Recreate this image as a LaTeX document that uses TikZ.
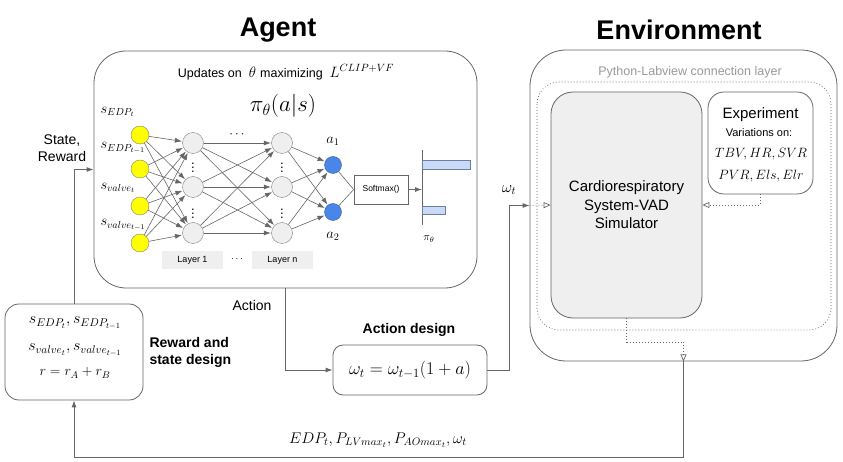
\documentclass[tikz,border=0pt]{standalone}
\usepackage{fix-cm}
\usepackage[no-math]{fontspec}
\setmainfont{Liberation Sans}
\usepackage{tikz}
\usetikzlibrary{arrows.meta}
\usetikzlibrary{positioning}
\tikzset{>={Latex[length=7pt,width=5pt]}}
\definecolor{linegray}{HTML}{666666}
\definecolor{nodegray}{HTML}{EFEFEF}
\definecolor{inyellow}{HTML}{FFFF00}
\definecolor{outblue}{HTML}{4A86E8}
\definecolor{barblue}{HTML}{C9DAF8}
\definecolor{bargray}{HTML}{6D7F9F}
\definecolor{labelgray}{HTML}{999999}

\tikzset{
  title/.style={font=\fontsize{27}{30}\selectfont\bfseries},
  box/.style={draw=linegray, line width=0.8pt},
  dotline/.style={draw=linegray, line width=0.7pt, dash pattern=on 0.8pt off 2.2pt},
  conn/.style={draw=linegray, line width=0.9pt, ->},
  hollow/.style={-{Triangle[open,length=7pt,width=6pt]}},
  innode/.style={circle, draw=gray, fill=inyellow, minimum size=18pt, inner sep=0pt},
  hidnode/.style={circle, draw=gray, fill=nodegray, minimum size=21pt, inner sep=0pt},
  outnode/.style={circle, draw=outblue!70!black, fill=outblue, minimum size=17pt, inner sep=0pt},
  netarrow/.style={draw=linegray, line width=0.6pt, ->, shorten >=0.5pt},
  layerbox/.style={fill=nodegray, minimum width=61pt, minimum height=18pt, font=\fontsize{9}{11}\selectfont},
  lbl/.style={font=\fontsize{14}{17}\selectfont},
  mlbl/.style={font=\fontsize{14.5}{17}\selectfont},
  dots/.style={font=\fontsize{13}{15}\selectfont, inner sep=0pt},
  bold/.style={font=\fontsize{14}{17}\selectfont\bfseries},
}

\begin{document}
\begin{tikzpicture}[x=1pt,y=-1pt]
\useasboundingbox (0,0) rectangle (843,462);

% titles
\node[title] (agenttitle) at (278,30) {Agent};
\node[title] (envtitle) at (679,30) {Environment};

% agent side
\node[box, rounded corners=32pt, minimum width=383pt, minimum height=237pt] (agent) at (285.5,169.5) {};
\node[font=\fontsize{12.5}{15}\selectfont] (update) at (286,72) {Updates on \ \fontsize{15}{17}\selectfont$\theta$\ \fontsize{12.5}{15}\selectfont maximizing \ \fontsize{15}{17}\selectfont$L^{CLIP+VF}$};
\node[font=\fontsize{23}{27}\selectfont] (policy) at (283,106) {$\pi_\theta(a|s)$};

\foreach \y [count=\i] in {135,169,206,243}
  \node[innode] (in\i) at (140,\y) {};
\foreach \y [count=\i] in {143,187,233} {
  \node[hidnode] (ha\i) at (193,\y) {};
  \node[hidnode] (hb\i) at (282,\y) {};
}
\foreach \y [count=\i] in {165,212}
  \node[outnode] (out\i) at (333,\y) {};

\foreach \i in {1,...,4}
  \foreach \j in {1,2,3}
    \draw[netarrow] (in\i) -- (ha\j);
\foreach \i in {1,2,3}
  \foreach \j in {1,2,3}
    \draw[netarrow] (ha\i) -- (hb\j);
\foreach \i in {1,2,3}
  \foreach \j in {1,2}
    \draw[netarrow] (hb\i) -- (out\j);

\node[mlbl, anchor=west] (sin1) at (97,112) {$s_{EDP_t}$};
\node[mlbl, anchor=west] (sin2) at (97,148) {$s_{EDP_{t-1}}$};
\node[mlbl, anchor=west] (sin3) at (97,188) {$s_{valve_t}$};
\node[mlbl, anchor=west] (sin4) at (97,225) {$s_{valve_{t-1}}$};

\node[dots] (hdots) at (237,135) {$\cdots$};
\node[dots] (vdotsa1) at (193,165) {$\vdots$};
\node[dots] (vdotsa2) at (193,211) {$\vdots$};
\node[dots] (vdotsb1) at (282,165) {$\vdots$};
\node[dots] (vdotsb2) at (282,211) {$\vdots$};

\node[mlbl] (a1) at (333,141) {$a_1$};
\node[mlbl] (a2) at (333,236) {$a_2$};

\node[layerbox] (layer1) at (192.5,260) {Layer 1};
\node[layerbox] (layern) at (282.5,260) {Layer n};
\node[font=\fontsize{10}{12}\selectfont] (ldots) at (237,259) {$\cdots$};

\node[draw=linegray, line width=0.7pt, minimum width=54pt, minimum height=29pt, font=\fontsize{8.5}{10}\selectfont] (softmax) at (381,189.5) {Softmax()};
\draw[draw=linegray, line width=0.6pt] (out1) -- (softmax.west);
\draw[draw=linegray, line width=0.6pt] (out2) -- (softmax.west);

\coordinate (axis) at (422,189.5);
\draw[draw=linegray, line width=0.8pt] (422,150) -- (422,225);
\draw[conn] (softmax) -- (axis);
\draw[draw=bargray, fill=barblue, line width=0.7pt] (422,160) rectangle (470,169);
\draw[draw=bargray, fill=barblue, line width=0.7pt] (422,206) rectangle (445,214);
\node[font=\fontsize{11}{13}\selectfont] (pilabel) at (429,239) {$\pi_\theta$};

% reward and action design
\node[box, rounded corners=14pt, minimum width=138pt, minimum height=96pt] (reward) at (74,352) {};
\node[font=\fontsize{16}{19}\selectfont] (rw1) at (75,323) {$s_{EDP_t},s_{EDP_{t-1}}$};
\node[font=\fontsize{16}{19}\selectfont] (rw2) at (75,350) {$s_{valve_t},s_{valve_{t-1}}$};
\node[font=\fontsize{14}{17}\selectfont] (rw3) at (75,373) {$r=r_A+r_B$};
\node[bold, anchor=west, align=left] (rewardlbl) at (146,352) {Reward and\\state design};
\node[lbl, align=center] (statelbl) at (62,148) {State,\\Reward};

\node[box, rounded corners=10pt, minimum width=154pt, minimum height=50pt, font=\fontsize{18}{21}\selectfont] (action) at (410,370) {$\omega_t=\omega_{t-1}(1+a)$};
\node[bold] (actionlbl) at (409,330) {Action design};
\node[lbl] (actiontxt) at (252,305) {Action};

% environment side
\node[box, rounded corners=36pt, minimum width=307pt, minimum height=311pt] (envbox) at (683.5,205.5) {};
\node[font=\fontsize{12.5}{15}\selectfont, text=labelgray] (layertxt) at (690,72) {Python-Labview connection layer};
\draw[dotline, rounded corners=22pt] (537,82) rectangle (831,330);
\node[box, fill=nodegray, rounded corners=22pt, minimum width=151pt, minimum height=226pt, align=center, font=\fontsize{15}{18.5}\selectfont] (sim) at (626.5,205) {Cardiorespiratory\\System-VAD\\Simulator};
\node[box, fill=white, rounded corners=16pt, minimum width=105pt, minimum height=102pt] (exper) at (760.5,143) {};
\node[font=\fontsize{15}{18}\selectfont] (expertxt) at (760.5,115) {Experiment};
\node[font=\fontsize{11}{13}\selectfont] (vartxt) at (759,133) {Variations on:};
\node[font=\fontsize{13.5}{16}\selectfont] (vars1) at (761,154) {$TBV,HR,SVR$};
\node[font=\fontsize{13.5}{16}\selectfont] (vars2) at (761,176) {$PVR,Els,Elr$};

% connectors
\draw[conn] (reward.north) |- (agent.west);
\draw[conn] (agent.south) |- (action.west);
\draw[conn] (action.east) -- ++(22,0) |- (envbox.west);
\node[font=\fontsize{16}{19}\selectfont] (omegalbl) at (509,190) {$\omega_t$};
\draw[dotline, hollow] (envbox.west) -- (sim.west);
\draw[dotline, hollow] (exper.south) |- (sim.east);
\draw[dotline, hollow] (sim.south) -- ++(0,24) -| (envbox.south);
\draw[conn] (envbox.south) -- ++(0,96) -| (reward.south);
\node[font=\fontsize{15.5}{18}\selectfont] (feedback) at (378,440) {$EDP_t,P_{LVmax_t},P_{AOmax_t},\omega_t$};
\end{tikzpicture}
\end{document}
